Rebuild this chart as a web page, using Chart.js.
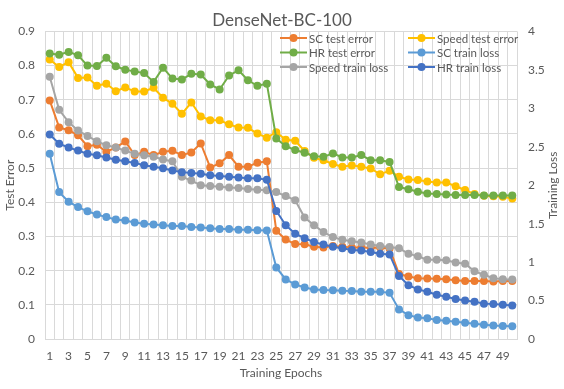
<!DOCTYPE html>
<html>
<head>
<meta charset="utf-8">
<script src="https://cdn.jsdelivr.net/npm/chart.js@4.4.1/dist/chart.umd.min.js"></script>
<style>
  body { margin: 0; background: #fff; }
</style>
</head>
<body>
<canvas id="loss-chart" width="564" height="389"></canvas>
<script>
// epochs on the x axis
const epochs = [
  '1', '2', '3', '4', '5', '6', '7', '8', '9', '10',
  '11', '12', '13', '14', '15', '16', '17', '18', '19', '20',
  '21', '22', '23', '24', '25', '26', '27', '28', '29', '30',
  '31', '32', '33', '34', '35', '36', '37', '38', '39', '40',
  '41', '42', '43', '44', '45', '46', '47', '48', '49', '50'
];

// test errors, left axis
const scTestError = [
  0.698, 0.619, 0.611, 0.596, 0.564, 0.568, 0.548, 0.560, 0.578, 0.538,
  0.548, 0.538, 0.548, 0.551, 0.538, 0.546, 0.572, 0.502, 0.514, 0.538,
  0.504, 0.504, 0.516, 0.520, 0.317, 0.291, 0.278, 0.277, 0.270, 0.268,
  0.272, 0.270, 0.268, 0.268, 0.267, 0.268, 0.265, 0.190, 0.183, 0.178,
  0.177, 0.176, 0.175, 0.172, 0.170, 0.170, 0.170, 0.168, 0.170, 0.170
];
const speedTestError = [
  0.818, 0.796, 0.810, 0.764, 0.765, 0.741, 0.747, 0.725, 0.736, 0.724,
  0.724, 0.735, 0.706, 0.688, 0.659, 0.692, 0.651, 0.640, 0.640, 0.628,
  0.619, 0.618, 0.601, 0.589, 0.605, 0.583, 0.580, 0.550, 0.530, 0.523,
  0.512, 0.504, 0.508, 0.504, 0.499, 0.482, 0.492, 0.475, 0.467, 0.465,
  0.461, 0.458, 0.458, 0.447, 0.436, 0.424, 0.419, 0.418, 0.416, 0.411
];
const hrTestError = [
  0.835, 0.832, 0.840, 0.830, 0.800, 0.799, 0.823, 0.798, 0.788, 0.783,
  0.778, 0.752, 0.794, 0.762, 0.759, 0.776, 0.774, 0.745, 0.730, 0.771,
  0.786, 0.757, 0.741, 0.747, 0.587, 0.564, 0.553, 0.545, 0.535, 0.533,
  0.543, 0.531, 0.531, 0.538, 0.523, 0.523, 0.518, 0.445, 0.438, 0.431,
  0.426, 0.424, 0.423, 0.421, 0.421, 0.421, 0.420, 0.420, 0.420, 0.420
];

// training losses, right axis
const scTrainLoss = [
  2.41, 1.91, 1.785, 1.715, 1.66, 1.62, 1.585, 1.555, 1.54, 1.515,
  1.50, 1.49, 1.48, 1.47, 1.47, 1.455, 1.45, 1.44, 1.43, 1.43,
  1.42, 1.42, 1.415, 1.41, 0.93, 0.775, 0.71, 0.67, 0.645, 0.636,
  0.635, 0.627, 0.625, 0.615, 0.615, 0.615, 0.60, 0.385, 0.31, 0.28,
  0.27, 0.247, 0.238, 0.225, 0.21, 0.198, 0.185, 0.175, 0.17, 0.165
];
const speedTrainLoss = [
  3.41, 2.98, 2.82, 2.71, 2.64, 2.57, 2.52, 2.49, 2.45, 2.41,
  2.39, 2.37, 2.335, 2.31, 2.11, 2.06, 2.00, 1.99, 1.98, 1.97,
  1.965, 1.95, 1.94, 1.935, 1.91, 1.86, 1.805, 1.58, 1.48, 1.39,
  1.325, 1.29, 1.27, 1.256, 1.23, 1.21, 1.195, 1.18, 1.11, 1.075,
  1.03, 1.03, 1.025, 0.995, 0.98, 0.88, 0.835, 0.79, 0.777, 0.775
];
const hrTrainLoss = [
  2.66, 2.54, 2.49, 2.45, 2.41, 2.39, 2.36, 2.33, 2.31, 2.29,
  2.26, 2.24, 2.22, 2.19, 2.17, 2.16, 2.15, 2.13, 2.12, 2.11,
  2.10, 2.09, 2.09, 2.07, 1.666, 1.48, 1.37, 1.31, 1.26, 1.23,
  1.20, 1.18, 1.156, 1.15, 1.13, 1.11, 1.10, 0.82, 0.70, 0.645,
  0.615, 0.575, 0.55, 0.52, 0.50, 0.485, 0.46, 0.455, 0.445, 0.435
];

const textColor = '#595959';
const gridColor = '#d9d9d9';
const fontFamily = 'Lato, "Open Sans", sans-serif';

function series(label, data, color, axis, index) {
  return {
    label: label,
    data: data,
    yAxisID: axis,
    borderColor: color,
    backgroundColor: color,
    borderWidth: 2,
    pointRadius: 4,
    pointBorderWidth: 0,
    pointBackgroundColor: color,
    tension: 0,
    // excel draws the later series on top
    order: 5 - index,
  };
}

const datasets = [
  series('SC test error', scTestError, '#ed7d31', 'y', 0),
  series('Speed test error', speedTestError, '#ffc000', 'y', 1),
  series('HR test error', hrTestError, '#70ad47', 'y', 2),
  series('SC train loss', scTrainLoss, '#5b9bd5', 'y1', 3),
  series('Speed train loss', speedTrainLoss, '#a5a5a5', 'y1', 4),
  series('HR train loss', hrTrainLoss, '#4472c4', 'y1', 5),
];

// legend sits inside the plot, two columns like the excel one
const cornerLegend = {
  id: 'cornerLegend',
  afterDraw(chart) {
    const ctx = chart.ctx;
    const cols = [280, 408];
    const rows = [38, 52.5, 67];
    ctx.save();
    ctx.font = '11.5px ' + fontFamily;
    ctx.textBaseline = 'middle';
    ctx.fillStyle = textColor;
    chart.data.datasets.forEach((ds, i) => {
      const x = cols[i % 2];
      const y = rows[Math.floor(i / 2)];
      ctx.strokeStyle = ds.borderColor;
      ctx.lineWidth = 2;
      ctx.beginPath();
      ctx.moveTo(x, y);
      ctx.lineTo(x + 27, y);
      ctx.stroke();
      ctx.fillStyle = ds.borderColor;
      ctx.beginPath();
      ctx.arc(x + 13.5, y, 4, 0, Math.PI * 2);
      ctx.fill();
      ctx.fillStyle = textColor;
      ctx.fillText(ds.label, x + 29, y + 1);
    });
    ctx.restore();
  }
};

// right axis title reads bottom to top, chart.js would turn it the other way
const rightTitle = {
  id: 'rightTitle',
  afterDraw(chart) {
    const ctx = chart.ctx;
    const area = chart.chartArea;
    ctx.save();
    ctx.font = '12px ' + fontFamily;
    ctx.fillStyle = textColor;
    ctx.textAlign = 'center';
    ctx.textBaseline = 'middle';
    ctx.translate(553, (area.top + area.bottom) / 2);
    ctx.rotate(-Math.PI / 2);
    ctx.fillText('Training Loss', 0, 0);
    ctx.restore();
  }
};

const ctx = document.getElementById('loss-chart').getContext('2d');
new Chart(ctx, {
  type: 'line',
  data: { labels: epochs, datasets: datasets },
  options: {
    responsive: false,
    animation: false,
    layout: { padding: 0 },
    plugins: {
      legend: { display: false },
      tooltip: { enabled: false },
      title: {
        display: true,
        text: 'DenseNet-BC-100',
        color: textColor,
        font: { family: fontFamily, size: 17, weight: 'normal' },
        padding: { top: 10, bottom: 1 },
      },
    },
    scales: {
      x: {
        offset: true,
        grid: { color: gridColor, offset: true, drawTicks: false },
        border: { color: gridColor },
        ticks: {
          color: textColor,
          font: { family: fontFamily, size: 12 },
          padding: 10,
          maxRotation: 0,
          autoSkip: false,
          // only every second epoch gets a label
          callback: function (value, index) {
            return index % 2 === 0 ? this.getLabelForValue(value) : '';
          },
        },
        title: {
          display: true,
          text: 'Training Epochs',
          color: textColor,
          font: { family: fontFamily, size: 12 },
          padding: { top: 0, bottom: 9 },
        },
        afterFit: scale => { scale.height = 50; },
      },
      y: {
        position: 'left',
        min: 0,
        max: 0.9,
        ticks: {
          stepSize: 0.1,
          color: textColor,
          font: { family: fontFamily, size: 12 },
          padding: 10,
          callback: v => (Math.round(v * 10) / 10).toString(),
        },
        grid: { color: gridColor, drawTicks: false },
        border: { display: false },
        title: {
          display: true,
          text: 'Test Error',
          color: textColor,
          font: { family: fontFamily, size: 12 },
          padding: { top: 3, bottom: 0 },
        },
        afterFit: scale => { scale.width = 45; },
      },
      y1: {
        position: 'right',
        min: 0,
        max: 4,
        ticks: {
          stepSize: 0.5,
          color: textColor,
          font: { family: fontFamily, size: 12 },
          padding: 11,
          // excel writes 4, 3.5, 3 ... without trailing zeros
          callback: v => (Math.round(v * 10) / 10).toString(),
        },
        grid: { drawOnChartArea: false, drawTicks: false },
        border: { display: false },
        afterFit: scale => { scale.width = 47; },
      },
    },
  },
  plugins: [cornerLegend, rightTitle],
});
</script>
</body>
</html>
